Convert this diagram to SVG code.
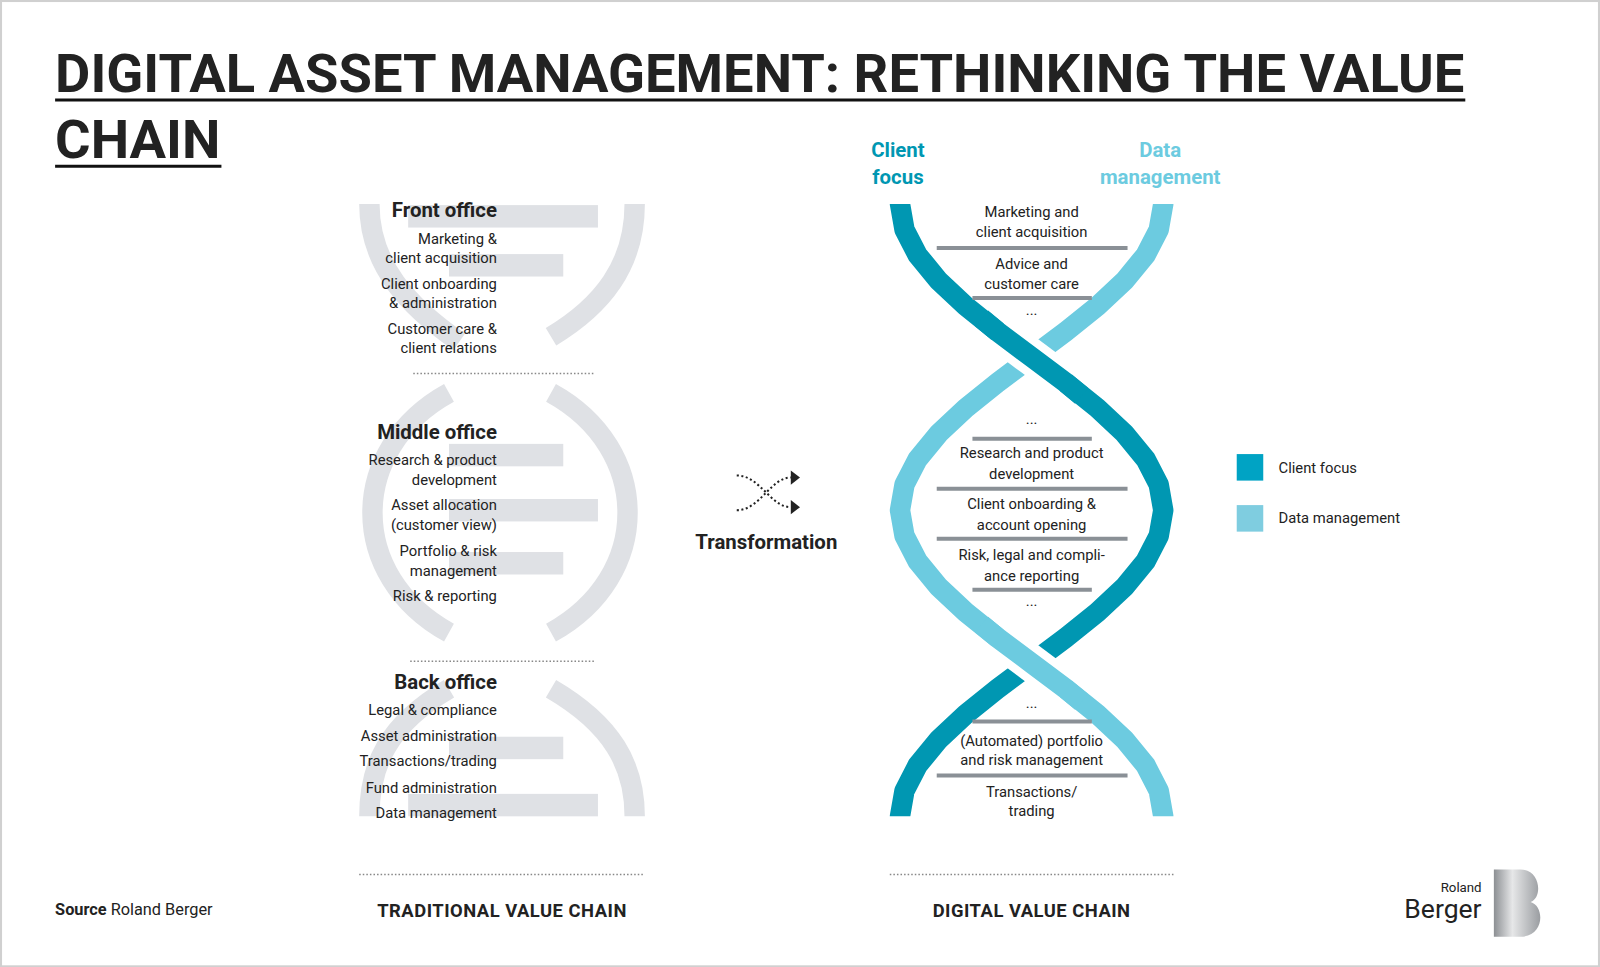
<svg xmlns="http://www.w3.org/2000/svg" width="1600" height="967" viewBox="0 0 1600 967">
<defs>
<style>
text{font-family:Roboto,"Liberation Sans",sans-serif;fill:#222}
.b{font-size:14.5px}
.l{text-anchor:end}
.c{text-anchor:middle}
.h{font-size:20px;font-weight:bold}
.g{fill:none;stroke:#dfe1e5;stroke-width:20}
.bar{fill:#dfe1e5}
.sep{stroke:#8a9096;stroke-width:4}
.dot{stroke:#888;stroke-width:1.5;stroke-dasharray:1.5 2}
</style>
<linearGradient id="lg" x1="0" y1="0" x2="1" y2="0"><stop offset="0" stop-color="#8c8f93"/><stop offset="0.4" stop-color="#e6e7e8"/><stop offset="1" stop-color="#9a9da1"/></linearGradient>
<clipPath id="hc"><rect x="850" y="200" width="320" height="600"/></clipPath>
</defs>
<rect x="0" y="0" width="1600" height="967" fill="#fff"/>
<g transform="scale(1.0204)">
<rect x="1" y="1" width="1566" height="946" fill="none" stroke="#d0d0d0" stroke-width="2"/>
<g id="title">
<text x="54" y="90" font-size="52" font-weight="bold" textLength="1381" lengthAdjust="spacingAndGlyphs" fill="#111">DIGITAL ASSET MANAGEMENT: RETHINKING THE VALUE</text>
<line x1="54" y1="98" x2="1436" y2="98" stroke="#111" stroke-width="3"/>
<text x="54" y="155" font-size="52" font-weight="bold" textLength="162" lengthAdjust="spacingAndGlyphs" fill="#111">CHAIN</text>
<line x1="54" y1="163" x2="217" y2="163" stroke="#111" stroke-width="3"/>
</g>
<g id="traditional-helix">
<path class="g" d="M622,200 C622,260 590,300 540,330"/>
<path class="g" d="M362,200 C362,260 400,300 450,335"/>
<path class="g" d="M440,385 C340,440 340,565 440,620"/>
<path class="g" d="M540,385 C640,440 640,565 540,620"/>
<path class="g" d="M540,675 C600,710 622,750 622,800"/>
<path class="g" d="M440,675 C380,710 362,750 362,800"/>
<rect class="bar" x="400" y="201" width="186" height="22"/>
<rect class="bar" x="440" y="249" width="112" height="22"/>
<rect class="bar" x="440" y="435" width="112" height="22"/>
<rect class="bar" x="440" y="489" width="146" height="22"/>
<rect class="bar" x="440" y="541" width="112" height="22"/>
<rect class="bar" x="440" y="722" width="112" height="22"/>
<rect class="bar" x="400" y="778" width="186" height="22"/>
</g>
<g id="front-office">
<text class="h l" x="487" y="213">Front office</text>
<text class="b l" x="487" y="239">Marketing &amp;</text>
<text class="b l" x="487" y="258">client acquisition</text>
<text class="b l" x="487" y="283">Client onboarding</text>
<text class="b l" x="487" y="302">&amp; administration</text>
<text class="b l" x="487" y="327">Customer care &amp;</text>
<text class="b l" x="487" y="346">client relations</text>
</g>
<g id="middle-office">
<text class="h l" x="487" y="430">Middle office</text>
<text class="b l" x="487" y="456">Research &amp; product</text>
<text class="b l" x="487" y="475">development</text>
<text class="b l" x="487" y="500">Asset allocation</text>
<text class="b l" x="487" y="519">(customer view)</text>
<text class="b l" x="487" y="545">Portfolio &amp; risk</text>
<text class="b l" x="487" y="564">management</text>
<text class="b l" x="487" y="589">Risk &amp; reporting</text>
</g>
<g id="back-office">
<text class="h l" x="487" y="675">Back office</text>
<text class="b l" x="487" y="701">Legal &amp; compliance</text>
<text class="b l" x="487" y="726">Asset administration</text>
<text class="b l" x="487" y="751">Transactions/trading</text>
<text class="b l" x="487" y="777">Fund administration</text>
<text class="b l" x="487" y="802">Data management</text>
</g>
<g id="separators">
<line class="dot" x1="405" y1="366" x2="582" y2="366"/>
<line class="dot" x1="402" y1="648" x2="584" y2="648"/>
<line class="dot" x1="352" y1="857" x2="632" y2="857"/>
<line class="dot" x1="872" y1="857" x2="1152" y2="857"/>
</g>
<g id="connectors">
<path d="M722,466 C745,466 755,497 775,497" fill="none" stroke="#222" stroke-width="2" stroke-dasharray="2 2.5"/>
<path d="M722,500 C745,500 755,468 775,468" fill="none" stroke="#222" stroke-width="2" stroke-dasharray="2 2.5"/>
<polygon points="775,461 784,468 775,475" fill="#222"/>
<polygon points="775,490 784,497 775,504" fill="#222"/>
</g>
<g id="transformation"><text class="h c" x="751" y="538">Transformation</text></g>
<g id="digital-helix" fill="none" stroke-width="20" stroke-linejoin="round" clip-path="url(#hc)">
<polyline stroke="#6ccbe0" points="1140,170 1140,200 1135.6,225 1122.7,250 1102.2,275 1075.5,300 1044.4,325 1011,350 977.6,375 946.5,400 919.8,425 899.3,450 886.4,475 882,500 886.4,525 899.3,550 919.8,575 946.5,600 977.6,625 1011,650 1044.4,675 1075.5,700 1102.2,725 1122.7,750 1135.6,775 1140,800 1140,830"/>
<polyline stroke="#0097b2" points="882,170 882,200 886.4,225 899.3,250 919.8,275 946.5,300 977.6,325 1011,350 1044.4,375 1075.5,400 1102.2,425 1122.7,450 1135.6,475 1140,500 1135.6,525 1122.7,550 1102.2,575 1075.5,600 1044.4,625 1011,650 977.6,675 946.5,700 919.8,725 899.3,750 886.4,775 882,800 882,830"/>
<polyline stroke="#fff" stroke-width="36" points="977.6,325 1011,350 1044.4,375"/>
<polyline stroke="#0097b2" points="962,312 977.6,325 1011,350 1044.4,375 1060,388"/>
<polyline stroke="#fff" stroke-width="36" points="977.6,625 1011,650 1044.4,675"/>
<polyline stroke="#6ccbe0" points="962,612 977.6,625 1011,650 1044.4,675 1060,688"/>
</g>
<g id="digital-labels">
<text class="h c" x="880" y="154" style="fill:#0097b2">Client</text>
<text class="h c" x="880" y="180" style="fill:#0097b2">focus</text>
<text class="h c" x="1137" y="154" style="fill:#6ccbe0">Data</text>
<text class="h c" x="1137" y="180" style="fill:#6ccbe0">management</text>
</g>
<g id="digital-items">
<text class="b c" x="1011" y="213">Marketing and</text>
<text class="b c" x="1011" y="232">client acquisition</text>
<line class="sep" x1="918" y1="243" x2="1105" y2="243"/>
<text class="b c" x="1011" y="264">Advice and</text>
<text class="b c" x="1011" y="283">customer care</text>
<line class="sep" x1="953" y1="292" x2="1070" y2="292"/>
<text class="b c" x="1011" y="309">...</text>
<text class="b c" x="1011" y="416">...</text>
<line class="sep" x1="953" y1="430" x2="1070" y2="430"/>
<text class="b c" x="1011" y="449">Research and product</text>
<text class="b c" x="1011" y="469">development</text>
<line class="sep" x1="918" y1="479" x2="1105" y2="479"/>
<text class="b c" x="1011" y="499">Client onboarding &amp;</text>
<text class="b c" x="1011" y="519">account opening</text>
<line class="sep" x1="918" y1="528" x2="1105" y2="528"/>
<text class="b c" x="1011" y="549">Risk, legal and compli-</text>
<text class="b c" x="1011" y="569">ance reporting</text>
<line class="sep" x1="953" y1="578" x2="1070" y2="578"/>
<text class="b c" x="1011" y="594">...</text>
<text class="b c" x="1011" y="694">...</text>
<line class="sep" x1="953" y1="707" x2="1070" y2="707"/>
<text class="b c" x="1011" y="731">(Automated) portfolio</text>
<text class="b c" x="1011" y="750">and risk management</text>
<line class="sep" x1="918" y1="760" x2="1105" y2="760"/>
<text class="b c" x="1011" y="781">Transactions/</text>
<text class="b c" x="1011" y="800">trading</text>
</g>
<g id="legend">
<rect x="1212" y="445" width="26" height="26" fill="#00a3c4"/>
<text class="b" x="1253" y="464">Client focus</text>
<rect x="1212" y="495" width="26" height="26" fill="#7fcde0"/>
<text class="b" x="1253" y="513">Data management</text>
</g>
<g id="footer">
<text x="54" y="897" font-size="16"><tspan font-weight="bold">Source</tspan> Roland Berger</text>
<text class="c" x="492" y="899" font-size="18" font-weight="bold" letter-spacing="0.5">TRADITIONAL VALUE CHAIN</text>
<text class="c" x="1011" y="899" font-size="18" font-weight="bold" letter-spacing="0.5">DIGITAL VALUE CHAIN</text>
</g>
<g id="logo">
<text class="l" x="1452" y="874" font-size="13">Roland</text>
<text class="l" x="1452" y="900" font-size="26">Berger</text>
<path d="M1464,852 H1490 C1510,852 1512,880 1500,884 C1514,888 1514,918 1490,918 H1464 Z" fill="url(#lg)"/>
</g>
</g>
</svg>
